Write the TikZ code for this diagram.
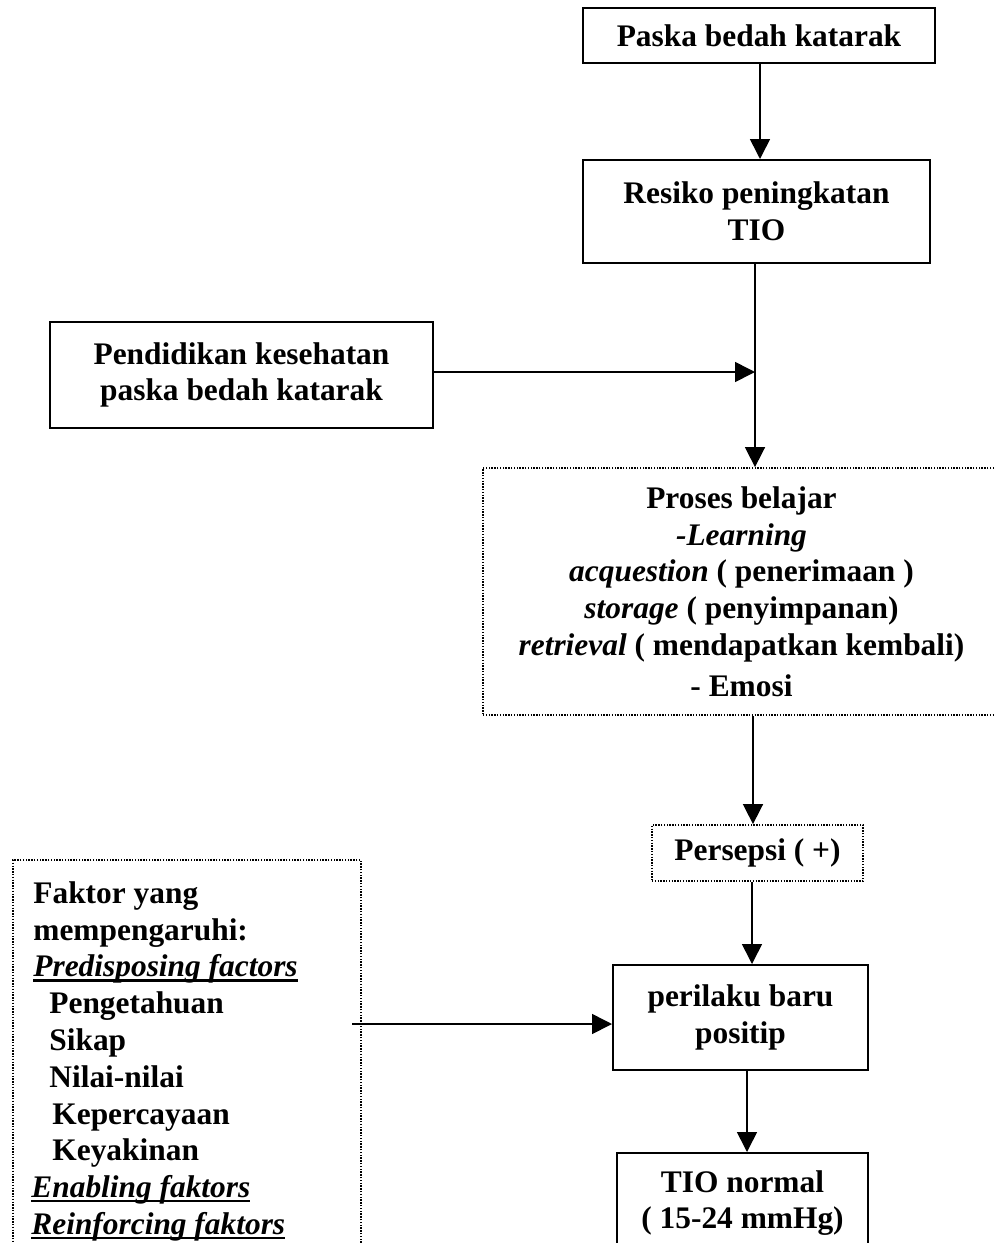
\documentclass[tikz,border=0pt]{standalone}
\usepackage{fontspec}
\setmainfont{Liberation Serif}
\usetikzlibrary{arrows.meta,calc}
\newcommand\myul[1]{\setbox0\hbox{#1}\rlap{\vrule height -1.3pt depth 2.4pt width \wd0}\box0}
\begin{document}
\begin{tikzpicture}[x=0.5pt,y=-0.5pt,
  every node/.style={font=\fontsize{15.7}{18.4}\selectfont\bfseries, inner sep=0pt, align=center},
  solidbox/.style={draw, line width=1pt, rectangle},
  dotbox/.style={draw, line width=0.9pt, dash pattern=on 0.7pt off 0.7pt, rectangle},
  arr/.style={draw, line width=0.8pt, -{Triangle[length=10pt,width=10pt]}}
]
\useasboundingbox (0,0) rectangle (995,1243);
\fill[white] (0,0) rectangle (995,1243);

\node[solidbox, minimum width=176pt, minimum height=27.5pt] (paska) at (759,35.5) {Paska bedah katarak};
\node[solidbox, minimum width=173.5pt, minimum height=51.5pt] (resiko) at (756.5,211.5) {Resiko peningkatan\\TIO};
\node[solidbox, minimum width=191.5pt, minimum height=53pt] (pendidikan) at (241.5,375) {Pendidikan kesehatan\\paska bedah katarak};
\node[dotbox, minimum width=258.5pt, minimum height=123.5pt] (proses) at (741.5,591.5) {Proses belajar\\\textit{-Learning}\\\textit{acquestion} ( penerimaan )\\\textit{storage} ( penyimpanan)\\\textit{retrieval} ( mendapatkan kembali)\\[2pt]- Emosi};
\node[dotbox, minimum width=105.5pt, minimum height=28pt] (persepsi) at (757.5,853) {Persepsi ( +)};
\node[solidbox, minimum width=127.5pt, minimum height=52.5pt] (perilaku) at (740.5,1017.5) {perilaku baru\\positip};
\node[solidbox, minimum width=125.5pt, minimum height=50pt] (tio) at (742.5,1203) {TIO normal\\( 15-24 mmHg)};
\node[dotbox, minimum width=174pt, minimum height=205pt, anchor=north west] (faktor) at (12,859) {};
\node[anchor=north west, align=left] (faktortxt) at (33,881) {Faktor yang\\
mempengaruhi:\\
\myul{\textit{Predisposing factors}}\\
\hspace*{8pt}Pengetahuan\\
\hspace*{8pt}Sikap\\
\hspace*{8pt}Nilai-nilai\\
\hspace*{9.5pt}Kepercayaan\\
\hspace*{9.5pt}Keyakinan\\
\hspace*{-1pt}\myul{\textit{Enabling faktors}}\\
\hspace*{-1pt}\myul{\textit{Reinforcing faktors}}};

\coordinate (join) at (755,372);
\coordinate (fa) at (352,1024);

\draw[arr] ([xshift=0.5pt]paska.south) -- ([xshift=0.5pt]paska.south |- resiko.north);
\draw[arr] (resiko.south -| join) -- (join |- proses.north);
\draw[arr] (pendidikan.east |- join) -- (join);
\draw[arr] ([xshift=5.75pt]proses.south) -- ([xshift=5.75pt]proses.south |- persepsi.north);
\draw[arr] ([xshift=-2.75pt]persepsi.south) -- ([xshift=-2.75pt]persepsi.south |- perilaku.north);
\draw[arr] ([xshift=3.25pt]perilaku.south) -- ([xshift=3.25pt]perilaku.south |- tio.north);
\draw[arr] (fa) -- (fa -| perilaku.west);
\end{tikzpicture}
\end{document}
